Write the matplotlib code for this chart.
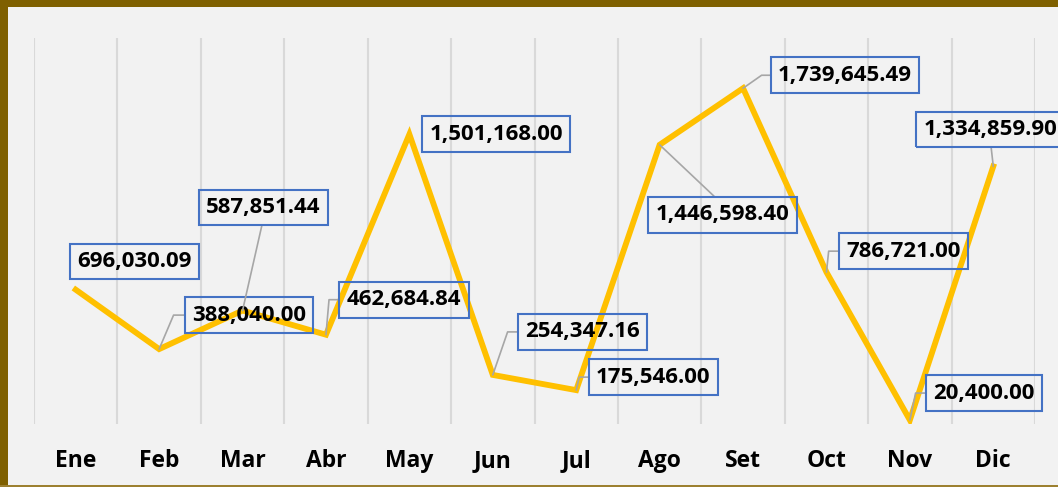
import matplotlib.pyplot as plt
from matplotlib.patches import Rectangle
from matplotlib.ticker import FixedLocator


months = ['Ene', 'Feb', 'Mar', 'Abr', 'May', 'Jun', 'Jul', 'Ago', 'Set', 'Oct', 'Nov', 'Dic']
values = [696030.09, 388040.00, 587851.44, 462684.84, 1501168.00, 254347.16,
          175546.00, 1446598.40, 1739645.49, 786721.00, 20400.00, 1334859.90]

# label box offsets from the point, in pixels (dx right, dy up)
label_dx = [59, 90, 21, 78, 87, 90, 77, 63, 102, 77, 74, -3]
label_dy = [28, 34, 103, 35, 0, 43, 13, -70, 13, 21, 27, 37]
# leader: None, ('elbow', angle), 'bottom', 'top'
leaders = [None, ('elbow', 67), 'bottom', ('elbow', 85), None, ('elbow', 71),
           ('elbow', 77), 'top', ('elbow', 35), ('elbow', 84), ('elbow', 78), 'bottom']

W, H = 1058, 487
fig = plt.figure(figsize=(W / 100, H / 100), dpi=100)
fig.patch.set_facecolor('#f2f2f2')

ax = fig.add_axes([34 / W, (H - 424) / H, (1035 - 34) / W, (424 - 38) / H])
ax.set_facecolor('#f2f2f2')
ax.set_xlim(-0.5, len(months) - 0.5)
ax.set_ylim(0, 2000000)

x = list(range(len(months)))
ax.plot(x, values, color='#ffc000', lw=4.2, solid_joinstyle='miter', zorder=3)

# vertical gridlines between categories
ax.xaxis.set_minor_locator(FixedLocator([i - 0.5 for i in range(len(months) + 1)]))
ax.grid(which='minor', axis='x', color='#d9d9d9', lw=1.5, zorder=0)
ax.set_xticks(x)
ax.set_xticklabels(months, fontsize=16.5, fontweight='bold', family='Open Sans')
ax.tick_params(axis='x', which='both', length=0, pad=18)
ax.set_yticks([])
for s in ax.spines.values():
    s.set_visible(False)

for i, v in enumerate(values):
    txt = f'{v:,.2f}'
    ld = leaders[i]
    ap = None
    if ld is not None:
        ap = dict(arrowstyle='-', color='#a6a6a6', lw=1.2, shrinkA=0, shrinkB=0)
        if ld == 'bottom':
            ap['relpos'] = (0.5, 0)
        elif ld == 'top':
            ap['relpos'] = (0.5, 1)
        else:
            ap['relpos'] = (0, 0.5)
            ap['connectionstyle'] = f'angle,angleA=0,angleB={ld[1]},rad=0'
    ax.annotate(txt, (i, v), xytext=(label_dx[i], label_dy[i]), textcoords='offset pixels',
                ha='center', va='center', fontsize=16, fontweight='bold', family='Open Sans',
                color='black', zorder=4, annotation_clip=False,
                bbox=dict(boxstyle='square,pad=0.33', fc='none', ec='#4472c4', lw=1.5),
                arrowprops=ap)

# frame
fig.add_artist(Rectangle((0, (H - 7) / H), 1, 7 / H, transform=fig.transFigure,
                         fc='#7f6000', ec='none', zorder=10))
fig.add_artist(Rectangle((0, 0), 8 / W, 1, transform=fig.transFigure,
                         fc='#7f6000', ec='none', zorder=10))
fig.add_artist(Rectangle((0, 0), 1, 2 / H, transform=fig.transFigure,
                         fc='#9c8030', ec='none', zorder=10))

fig.savefig('out.png', dpi=100, facecolor=fig.get_facecolor())
